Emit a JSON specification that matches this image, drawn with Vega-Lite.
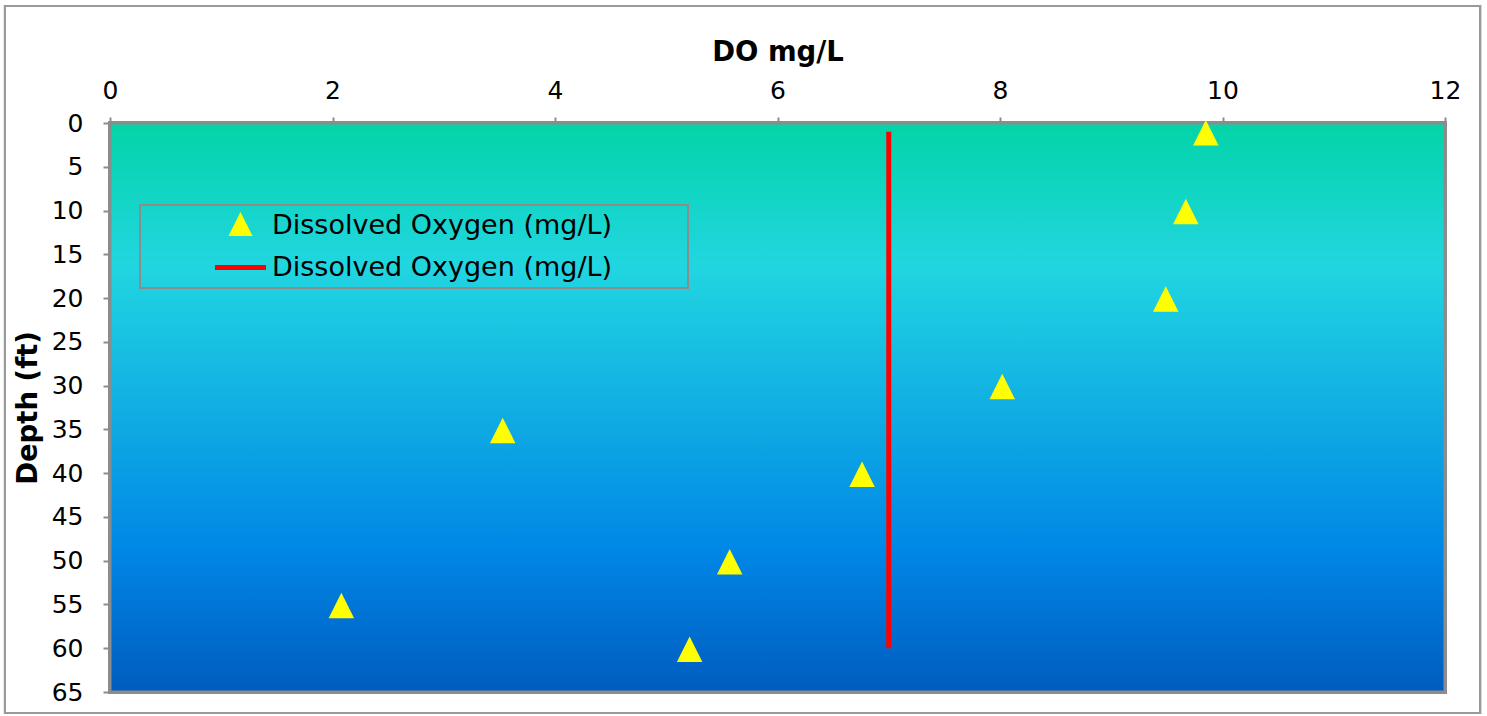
{
  "$schema": "https://vega.github.io/schema/vega-lite/v6.json",
  "width": 1335,
  "height": 569,
  "autosize": {"type": "none"},
  "padding": {"left": 110, "top": 123, "right": 42, "bottom": 24},
  "background": "white",
  "config": {
    "view": {"stroke": null},
    "font": "DejaVu Sans",
    "axis": {
      "domainColor": "#8c8c8c", "domainWidth": 2,
      "tickColor": "#8c8c8c", "tickWidth": 2,
      "labelColor": "black", "titleColor": "black",
      "labelFont": "DejaVu Sans", "titleFont": "DejaVu Sans",
      "labelFontSize": 25, "titleFontSize": 27.5, "titleFontWeight": "bold",
      "grid": false, "labelFlush": false, "labelOverlap": false
    },
    "legend": {
      "title": null, "orient": "none", "legendX": 30, "legendY": 82,
      "padding": 7, "strokeColor": "#8c8c8c",
      "symbolSize": 256, "symbolOffset": 80, "labelOffset": 18, "rowPadding": 9,
      "labelFont": "DejaVu Sans", "labelFontSize": 27, "labelColor": "black", "labelLimit": 1000
    }
  },
  "data": {
    "values": [
      {"DO": 9.85, "depth": 1, "series": "pts"},
      {"DO": 9.67, "depth": 10, "series": "pts"},
      {"DO": 9.49, "depth": 20, "series": "pts"},
      {"DO": 8.02, "depth": 30, "series": "pts"},
      {"DO": 3.53, "depth": 35, "series": "pts"},
      {"DO": 6.76, "depth": 40, "series": "pts"},
      {"DO": 5.57, "depth": 50, "series": "pts"},
      {"DO": 2.08, "depth": 55, "series": "pts"},
      {"DO": 5.21, "depth": 60, "series": "pts"},
      {"DO": 7, "depth": 1, "series": "line"},
      {"DO": 7, "depth": 60, "series": "line"}
    ]
  },
  "layer": [
    {
      "mark": {"type": "rect", "fill": "transparent", "stroke": "#9a9a9a", "strokeWidth": 2},
      "encoding": {
        "x": {"datum": -0.944, "type": "quantitative", "scale": {"domain": [0, 12], "nice": false, "zero": false},
              "axis": {"orient": "top", "values": [0, 2, 4, 6, 8, 10, 12], "tickSize": 6, "labelPadding": 19, "labelBaseline": "alphabetic", "title": "DO mg/L", "titleY": -63, "titleBaseline": "alphabetic"}},
        "x2": {"datum": 12.315},
        "y": {"datum": -13.37, "type": "quantitative", "scale": {"domain": [0, 65], "reverse": true, "nice": false, "zero": false},
              "axis": {"values": [0, 5, 10, 15, 20, 25, 30, 35, 40, 45, 50, 55, 60, 65], "tickSize": 7, "labelPadding": 20, "title": "Depth (ft)", "titleX": -74, "titleBaseline": "alphabetic"}},
        "y2": {"datum": 67.4}
      }
    },
    {
      "mark": {
        "type": "rect",
        "stroke": "#8c8c8c",
        "strokeWidth": 3,
        "fill": {
          "gradient": "linear", "x1": 0, "y1": 0, "x2": 0, "y2": 1,
          "stops": [
            {"offset": 0, "color": "#03D4A8"},
            {"offset": 0.25, "color": "#21D6E0"},
            {"offset": 0.75, "color": "#0087E6"},
            {"offset": 1, "color": "#005CBF"}
          ]
        }
      },
      "encoding": {
        "x": {"datum": 0, "type": "quantitative", "scale": {"domain": [0, 12], "nice": false, "zero": false},
              "axis": {"orient": "top", "values": [0, 2, 4, 6, 8, 10, 12], "tickSize": 6, "labelPadding": 19, "labelBaseline": "alphabetic", "title": "DO mg/L", "titleY": -63, "titleBaseline": "alphabetic"}},
        "x2": {"datum": 12},
        "y": {"datum": 0, "type": "quantitative", "scale": {"domain": [0, 65], "reverse": true, "nice": false, "zero": false},
              "axis": {"values": [0, 5, 10, 15, 20, 25, 30, 35, 40, 45, 50, 55, 60, 65], "tickSize": 7, "labelPadding": 20, "title": "Depth (ft)", "titleX": -74, "titleBaseline": "alphabetic"}},
        "y2": {"datum": 65}
      }
    },
    {
      "transform": [{"filter": "datum.series === 'line'"}],
      "mark": {"type": "line", "strokeWidth": 5, "strokeCap": "butt"},
      "encoding": {
        "x": {"field": "DO", "type": "quantitative", "scale": {"domain": [0, 12], "nice": false, "zero": false},
              "axis": {"orient": "top", "values": [0, 2, 4, 6, 8, 10, 12], "tickSize": 6, "labelPadding": 19, "labelBaseline": "alphabetic", "title": "DO mg/L", "titleY": -63, "titleBaseline": "alphabetic"}},
        "y": {"field": "depth", "type": "quantitative", "scale": {"domain": [0, 65], "reverse": true, "nice": false, "zero": false},
              "axis": {"values": [0, 5, 10, 15, 20, 25, 30, 35, 40, 45, 50, 55, 60, 65], "tickSize": 7, "labelPadding": 20, "title": "Depth (ft)", "titleX": -74, "titleBaseline": "alphabetic"}},
        "order": {"field": "depth", "type": "quantitative"},
        "color": {
          "field": "series", "type": "nominal",
          "scale": {"domain": ["pts", "line"], "range": ["#FFFF00", "#FF0000"]},
          "legend": {
            "labelExpr": "'Dissolved Oxygen (mg/L)\u00a0\u00a0\u00a0\u00a0\u00a0\u00a0\u00a0\u00a0\u200b'",
            "encode": {
              "symbols": {"update": {
                "shape": {"signal": "datum.value === 'pts' ? 'M0,-1L1,1L-1,1Z' : 'M-3.19,0H3.19'"},
                "size": {"value": 256},
                "fill": {"signal": "datum.value === 'pts' ? '#FFFF00' : 'transparent'"},
                "stroke": {"signal": "datum.value === 'pts' ? 'transparent' : '#FF0000'"},
                "strokeWidth": {"value": 5},
                "opacity": {"value": 1}
              }},
              "legend": {"update": {"strokeWidth": {"value": 2}}}
            }
          }
        }
      }
    },
    {
      "transform": [{"filter": "datum.series === 'pts'"}],
      "mark": {"type": "point", "shape": "M0,-1L1,1L-1,1Z", "filled": true, "size": 650, "opacity": 1, "strokeWidth": 0, "yOffset": 1},
      "encoding": {
        "x": {"field": "DO", "type": "quantitative", "scale": {"domain": [0, 12], "nice": false, "zero": false},
              "axis": {"orient": "top", "values": [0, 2, 4, 6, 8, 10, 12], "tickSize": 6, "labelPadding": 19, "labelBaseline": "alphabetic", "title": "DO mg/L", "titleY": -63, "titleBaseline": "alphabetic"}},
        "y": {"field": "depth", "type": "quantitative", "scale": {"domain": [0, 65], "reverse": true, "nice": false, "zero": false},
              "axis": {"values": [0, 5, 10, 15, 20, 25, 30, 35, 40, 45, 50, 55, 60, 65], "tickSize": 7, "labelPadding": 20, "title": "Depth (ft)", "titleX": -74, "titleBaseline": "alphabetic"}},
        "color": {
          "field": "series", "type": "nominal",
          "scale": {"domain": ["pts", "line"], "range": ["#FFFF00", "#FF0000"]},
          "legend": {
            "labelExpr": "'Dissolved Oxygen (mg/L)\u00a0\u00a0\u00a0\u00a0\u00a0\u00a0\u00a0\u00a0\u200b'",
            "encode": {
              "symbols": {"update": {
                "shape": {"signal": "datum.value === 'pts' ? 'M0,-1L1,1L-1,1Z' : 'M-3.19,0H3.19'"},
                "size": {"value": 256},
                "fill": {"signal": "datum.value === 'pts' ? '#FFFF00' : 'transparent'"},
                "stroke": {"signal": "datum.value === 'pts' ? 'transparent' : '#FF0000'"},
                "strokeWidth": {"value": 5},
                "opacity": {"value": 1}
              }},
              "legend": {"update": {"strokeWidth": {"value": 2}}}
            }
          }
        }
      }
    }
  ]
}
